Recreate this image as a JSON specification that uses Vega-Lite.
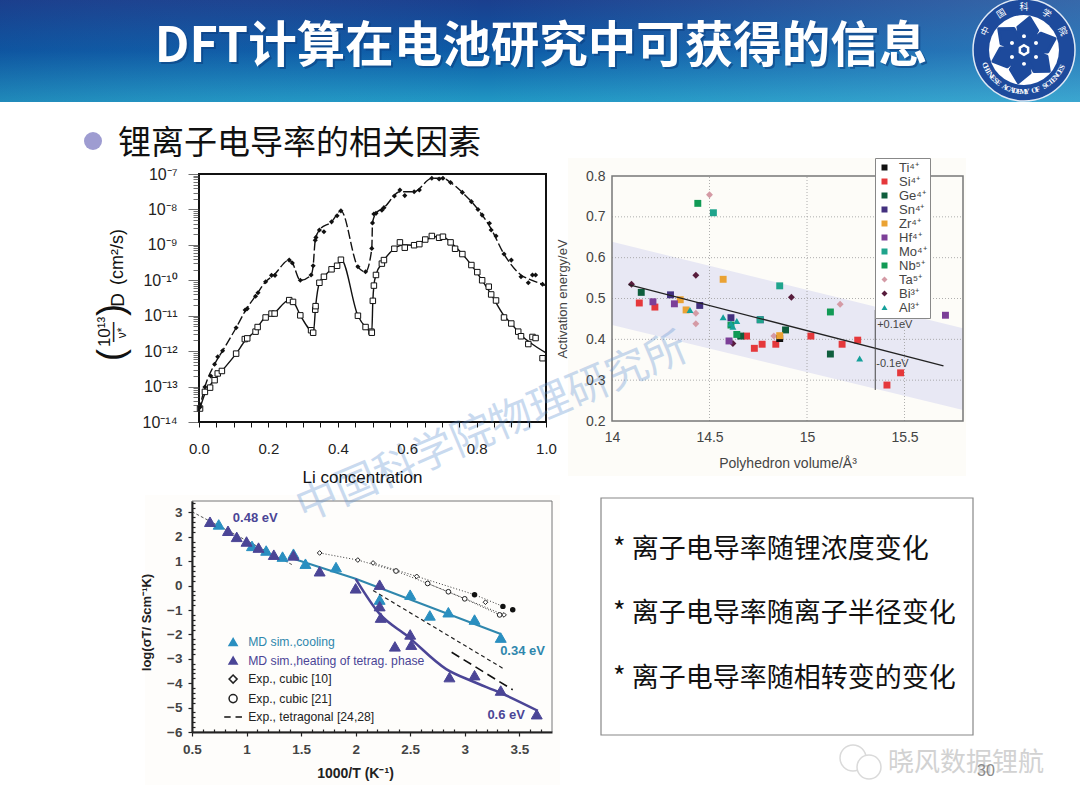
{
  "$schema": "https://vega.github.io/schema/vega-lite/v6.json",
  "width": 1080,
  "height": 810,
  "padding": 0,
  "autosize": "none",
  "background": "white",
  "config": {"view": {"stroke": null}, "font": "Liberation Sans"},
  "data": {"values": [{"k": 1}]},
  "datasets": {
    "li_open": [
      {"li": 0.003, "log_d": -13.62}, {"li": 0.017, "log_d": -13.15}, {"li": 0.032, "log_d": -13.03}, {"li": 0.045, "log_d": -12.82},
      {"li": 0.054, "log_d": -12.63}, {"li": 0.066, "log_d": -12.56}, {"li": 0.107, "log_d": -12.07}, {"li": 0.132, "log_d": -11.66},
      {"li": 0.139, "log_d": -11.64}, {"li": 0.163, "log_d": -11.45}, {"li": 0.169, "log_d": -11.32}, {"li": 0.192, "log_d": -11.05},
      {"li": 0.209, "log_d": -10.94}, {"li": 0.218, "log_d": -10.94}, {"li": 0.26, "log_d": -10.56}, {"li": 0.271, "log_d": -10.61},
      {"li": 0.292, "log_d": -10.99}, {"li": 0.323, "log_d": -11.41}, {"li": 0.329, "log_d": -11.48}, {"li": 0.335, "log_d": -10.83},
      {"li": 0.336, "log_d": -10.73}, {"li": 0.347, "log_d": -10.07}, {"li": 0.36, "log_d": -9.9}, {"li": 0.382, "log_d": -9.69},
      {"li": 0.398, "log_d": -9.59}, {"li": 0.409, "log_d": -9.42}, {"li": 0.458, "log_d": -11.0}, {"li": 0.48, "log_d": -11.32},
      {"li": 0.497, "log_d": -11.45}, {"li": 0.498, "log_d": -11.48}, {"li": 0.501, "log_d": -10.58}, {"li": 0.504, "log_d": -10.15},
      {"li": 0.51, "log_d": -9.85}, {"li": 0.527, "log_d": -9.53}, {"li": 0.533, "log_d": -9.43}, {"li": 0.563, "log_d": -9.11},
      {"li": 0.579, "log_d": -8.93}, {"li": 0.593, "log_d": -9.08}, {"li": 0.62, "log_d": -9.01}, {"li": 0.635, "log_d": -8.98},
      {"li": 0.652, "log_d": -8.85}, {"li": 0.671, "log_d": -8.75}, {"li": 0.692, "log_d": -8.8}, {"li": 0.703, "log_d": -8.77},
      {"li": 0.725, "log_d": -8.93}, {"li": 0.738, "log_d": -9.11}, {"li": 0.759, "log_d": -9.26}, {"li": 0.785, "log_d": -9.57},
      {"li": 0.802, "log_d": -9.77}, {"li": 0.816, "log_d": -10.0}, {"li": 0.835, "log_d": -10.18}, {"li": 0.842, "log_d": -10.4},
      {"li": 0.856, "log_d": -10.57}, {"li": 0.879, "log_d": -11.05}, {"li": 0.9, "log_d": -11.22}, {"li": 0.92, "log_d": -11.45},
      {"li": 0.928, "log_d": -11.58}, {"li": 0.949, "log_d": -11.8}, {"li": 0.961, "log_d": -11.6}, {"li": 0.97, "log_d": -11.63},
      {"li": 0.99, "log_d": -12.2}
    ],
    "li_open_line": [
      {"li": 0, "log_d": -13.7}, {"li": 0.017, "log_d": -13.2}, {"li": 0.05, "log_d": -12.75}, {"li": 0.066, "log_d": -12.56},
      {"li": 0.107, "log_d": -12.07}, {"li": 0.135, "log_d": -11.68}, {"li": 0.16, "log_d": -11.45}, {"li": 0.19, "log_d": -11.05},
      {"li": 0.215, "log_d": -10.94}, {"li": 0.26, "log_d": -10.56}, {"li": 0.272, "log_d": -10.61}, {"li": 0.292, "log_d": -10.99},
      {"li": 0.33, "log_d": -11.45}, {"li": 0.336, "log_d": -10.75}, {"li": 0.347, "log_d": -10.07}, {"li": 0.36, "log_d": -9.9},
      {"li": 0.382, "log_d": -9.69}, {"li": 0.398, "log_d": -9.59}, {"li": 0.41, "log_d": -9.42}, {"li": 0.458, "log_d": -11.0},
      {"li": 0.48, "log_d": -11.32}, {"li": 0.498, "log_d": -11.45}, {"li": 0.501, "log_d": -10.58}, {"li": 0.504, "log_d": -10.15},
      {"li": 0.51, "log_d": -9.85}, {"li": 0.53, "log_d": -9.48}, {"li": 0.563, "log_d": -9.11}, {"li": 0.59, "log_d": -9.0},
      {"li": 0.62, "log_d": -9.01}, {"li": 0.652, "log_d": -8.87}, {"li": 0.68, "log_d": -8.77}, {"li": 0.703, "log_d": -8.77},
      {"li": 0.725, "log_d": -8.93}, {"li": 0.759, "log_d": -9.26}, {"li": 0.785, "log_d": -9.57}, {"li": 0.816, "log_d": -10.0},
      {"li": 0.842, "log_d": -10.4}, {"li": 0.879, "log_d": -11.0}, {"li": 0.9, "log_d": -11.22}, {"li": 0.928, "log_d": -11.55},
      {"li": 0.96, "log_d": -11.8}, {"li": 1, "log_d": -12.05}
    ],
    "li_solid": [
      {"li": 0.003, "log_d": -13.58}, {"li": 0.017, "log_d": -13.01}, {"li": 0.034, "log_d": -12.7}, {"li": 0.045, "log_d": -12.37},
      {"li": 0.054, "log_d": -12.16}, {"li": 0.068, "log_d": -11.99}, {"li": 0.107, "log_d": -11.34}, {"li": 0.133, "log_d": -10.84},
      {"li": 0.139, "log_d": -10.8}, {"li": 0.163, "log_d": -10.45}, {"li": 0.17, "log_d": -10.35}, {"li": 0.192, "log_d": -10.04},
      {"li": 0.209, "log_d": -9.86}, {"li": 0.219, "log_d": -9.86}, {"li": 0.26, "log_d": -9.43}, {"li": 0.269, "log_d": -9.51},
      {"li": 0.292, "log_d": -10.0}, {"li": 0.323, "log_d": -9.85}, {"li": 0.329, "log_d": -9.59}, {"li": 0.335, "log_d": -8.87},
      {"li": 0.337, "log_d": -8.79}, {"li": 0.347, "log_d": -8.58}, {"li": 0.36, "log_d": -8.63}, {"li": 0.382, "log_d": -8.35},
      {"li": 0.398, "log_d": -8.18}, {"li": 0.409, "log_d": -8.04}, {"li": 0.458, "log_d": -9.62}, {"li": 0.48, "log_d": -9.76},
      {"li": 0.498, "log_d": -9.1}, {"li": 0.5, "log_d": -8.38}, {"li": 0.504, "log_d": -8.13}, {"li": 0.51, "log_d": -8.11},
      {"li": 0.527, "log_d": -8.02}, {"li": 0.533, "log_d": -7.95}, {"li": 0.563, "log_d": -7.62}, {"li": 0.579, "log_d": -7.45},
      {"li": 0.593, "log_d": -7.61}, {"li": 0.62, "log_d": -7.5}, {"li": 0.635, "log_d": -7.45}, {"li": 0.671, "log_d": -7.12},
      {"li": 0.692, "log_d": -7.14}, {"li": 0.703, "log_d": -7.12}, {"li": 0.725, "log_d": -7.24}, {"li": 0.759, "log_d": -7.52},
      {"li": 0.785, "log_d": -7.78}, {"li": 0.804, "log_d": -8.0}, {"li": 0.816, "log_d": -8.16}, {"li": 0.837, "log_d": -8.39},
      {"li": 0.842, "log_d": -8.58}, {"li": 0.856, "log_d": -8.75}, {"li": 0.879, "log_d": -9.26}, {"li": 0.9, "log_d": -9.43},
      {"li": 0.928, "log_d": -9.9}, {"li": 0.949, "log_d": -10.07}, {"li": 0.961, "log_d": -9.85}, {"li": 0.97, "log_d": -9.85},
      {"li": 0.99, "log_d": -10.11}
    ],
    "li_solid_line": [
      {"li": 0, "log_d": -13.7}, {"li": 0.017, "log_d": -13.01}, {"li": 0.045, "log_d": -12.37}, {"li": 0.068, "log_d": -11.99},
      {"li": 0.107, "log_d": -11.34}, {"li": 0.136, "log_d": -10.82}, {"li": 0.166, "log_d": -10.4}, {"li": 0.192, "log_d": -10.04},
      {"li": 0.215, "log_d": -9.86}, {"li": 0.26, "log_d": -9.43}, {"li": 0.269, "log_d": -9.51}, {"li": 0.292, "log_d": -10.0},
      {"li": 0.323, "log_d": -9.85}, {"li": 0.329, "log_d": -9.59}, {"li": 0.335, "log_d": -8.87}, {"li": 0.347, "log_d": -8.58},
      {"li": 0.382, "log_d": -8.35}, {"li": 0.409, "log_d": -8.04}, {"li": 0.458, "log_d": -9.62}, {"li": 0.48, "log_d": -9.76},
      {"li": 0.498, "log_d": -9.1}, {"li": 0.5, "log_d": -8.38}, {"li": 0.51, "log_d": -8.11}, {"li": 0.533, "log_d": -7.95},
      {"li": 0.579, "log_d": -7.5}, {"li": 0.62, "log_d": -7.5}, {"li": 0.671, "log_d": -7.12}, {"li": 0.703, "log_d": -7.12},
      {"li": 0.725, "log_d": -7.24}, {"li": 0.759, "log_d": -7.52}, {"li": 0.804, "log_d": -8.0}, {"li": 0.842, "log_d": -8.55},
      {"li": 0.879, "log_d": -9.26}, {"li": 0.928, "log_d": -9.85}, {"li": 0.96, "log_d": -10.0}, {"li": 1, "log_d": -10.15}
    ],
    "ions": [
      {"ion": "Bi³⁺", "vol": 14.1, "ea": 0.535}, {"ion": "Bi³⁺", "vol": 14.43, "ea": 0.557}, {"ion": "Bi³⁺", "vol": 14.92, "ea": 0.503}, {"ion": "Bi³⁺", "vol": 14.62, "ea": 0.39},
      {"ion": "Ta⁵⁺", "vol": 14.5, "ea": 0.754}, {"ion": "Ta⁵⁺", "vol": 15.17, "ea": 0.486}, {"ion": "Ta⁵⁺", "vol": 14.43, "ea": 0.464}, {"ion": "Ta⁵⁺", "vol": 14.43, "ea": 0.438}, {"ion": "Ta⁵⁺", "vol": 14.83, "ea": 0.408},
      {"ion": "Si⁴⁺", "vol": 14.14, "ea": 0.489}, {"ion": "Si⁴⁺", "vol": 14.22, "ea": 0.479}, {"ion": "Si⁴⁺", "vol": 14.69, "ea": 0.408}, {"ion": "Si⁴⁺", "vol": 14.73, "ea": 0.378}, {"ion": "Si⁴⁺", "vol": 14.77, "ea": 0.388}, {"ion": "Si⁴⁺", "vol": 14.84, "ea": 0.388}, {"ion": "Si⁴⁺", "vol": 15.02, "ea": 0.408}, {"ion": "Si⁴⁺", "vol": 15.18, "ea": 0.388}, {"ion": "Si⁴⁺", "vol": 15.26, "ea": 0.398}, {"ion": "Si⁴⁺", "vol": 15.41, "ea": 0.288}, {"ion": "Si⁴⁺", "vol": 15.48, "ea": 0.318},
      {"ion": "Ti⁴⁺", "vol": 14.86, "ea": 0.402},
      {"ion": "Ge⁴⁺", "vol": 14.15, "ea": 0.515}, {"ion": "Ge⁴⁺", "vol": 15.12, "ea": 0.364}, {"ion": "Ge⁴⁺", "vol": 14.89, "ea": 0.423}, {"ion": "Ge⁴⁺", "vol": 14.66, "ea": 0.408},
      {"ion": "Nb⁵⁺", "vol": 14.44, "ea": 0.733}, {"ion": "Nb⁵⁺", "vol": 15.12, "ea": 0.467}, {"ion": "Nb⁵⁺", "vol": 14.61, "ea": 0.435}, {"ion": "Nb⁵⁺", "vol": 14.64, "ea": 0.412},
      {"ion": "Zr⁴⁺", "vol": 14.57, "ea": 0.547}, {"ion": "Zr⁴⁺", "vol": 14.35, "ea": 0.497}, {"ion": "Zr⁴⁺", "vol": 14.38, "ea": 0.472}, {"ion": "Zr⁴⁺", "vol": 14.86, "ea": 0.409},
      {"ion": "Hf⁴⁺", "vol": 14.21, "ea": 0.492}, {"ion": "Hf⁴⁺", "vol": 14.32, "ea": 0.487}, {"ion": "Hf⁴⁺", "vol": 15.71, "ea": 0.459}, {"ion": "Hf⁴⁺", "vol": 14.6, "ea": 0.396},
      {"ion": "Sn⁴⁺", "vol": 14.3, "ea": 0.509}, {"ion": "Sn⁴⁺", "vol": 14.45, "ea": 0.483}, {"ion": "Sn⁴⁺", "vol": 14.61, "ea": 0.453}, {"ion": "Sn⁴⁺", "vol": 14.76, "ea": 0.448},
      {"ion": "Mo⁴⁺", "vol": 14.52, "ea": 0.71}, {"ion": "Mo⁴⁺", "vol": 14.86, "ea": 0.531}, {"ion": "Mo⁴⁺", "vol": 14.76, "ea": 0.448},
      {"ion": "Al³⁺", "vol": 14.4, "ea": 0.472}, {"ion": "Al³⁺", "vol": 14.57, "ea": 0.454}, {"ion": "Al³⁺", "vol": 14.61, "ea": 0.439}, {"ion": "Al³⁺", "vol": 14.62, "ea": 0.431}, {"ion": "Al³⁺", "vol": 14.64, "ea": 0.445}, {"ion": "Al³⁺", "vol": 15.27, "ea": 0.353}
    ],
    "md_points": [
      {"series": "MD sim.,cooling", "t": 0.745, "s": 2.51}, {"series": "MD sim.,cooling", "t": 1.05, "s": 1.63}, {"series": "MD sim.,cooling", "t": 1.18, "s": 1.44}, {"series": "MD sim.,cooling", "t": 1.33, "s": 1.19}, {"series": "MD sim.,cooling", "t": 1.43, "s": 1.31}, {"series": "MD sim.,cooling", "t": 1.54, "s": 0.9}, {"series": "MD sim.,cooling", "t": 1.82, "s": 0.76}, {"series": "MD sim.,cooling", "t": 2.22, "s": -0.57}, {"series": "MD sim.,cooling", "t": 2.5, "s": -0.37}, {"series": "MD sim.,cooling", "t": 2.68, "s": -1.22}, {"series": "MD sim.,cooling", "t": 2.85, "s": -1.09}, {"series": "MD sim.,cooling", "t": 3.09, "s": -1.39}, {"series": "MD sim.,cooling", "t": 3.33, "s": -2.13},
      {"series": "MD sim.,heating of tetrag. phase", "t": 0.665, "s": 2.62}, {"series": "MD sim.,heating of tetrag. phase", "t": 0.83, "s": 2.25}, {"series": "MD sim.,heating of tetrag. phase", "t": 0.91, "s": 2.0}, {"series": "MD sim.,heating of tetrag. phase", "t": 1.0, "s": 1.81}, {"series": "MD sim.,heating of tetrag. phase", "t": 1.11, "s": 1.56}, {"series": "MD sim.,heating of tetrag. phase", "t": 1.25, "s": 1.27}, {"series": "MD sim.,heating of tetrag. phase", "t": 1.43, "s": 1.24}, {"series": "MD sim.,heating of tetrag. phase", "t": 1.67, "s": 0.59}, {"series": "MD sim.,heating of tetrag. phase", "t": 2.0, "s": -0.11}, {"series": "MD sim.,heating of tetrag. phase", "t": 2.22, "s": 0.04}, {"series": "MD sim.,heating of tetrag. phase", "t": 2.22, "s": -0.84}, {"series": "MD sim.,heating of tetrag. phase", "t": 2.23, "s": -1.31}, {"series": "MD sim.,heating of tetrag. phase", "t": 2.36, "s": -2.49}, {"series": "MD sim.,heating of tetrag. phase", "t": 2.5, "s": -2.0}, {"series": "MD sim.,heating of tetrag. phase", "t": 2.51, "s": -2.42}, {"series": "MD sim.,heating of tetrag. phase", "t": 2.86, "s": -3.75}, {"series": "MD sim.,heating of tetrag. phase", "t": 3.09, "s": -3.67}, {"series": "MD sim.,heating of tetrag. phase", "t": 3.33, "s": -4.3}, {"series": "MD sim.,heating of tetrag. phase", "t": 3.66, "s": -5.27}
    ],
    "exp_points": [
      {"series": "Exp., cubic [10]", "t": 1.67, "s": 1.34}, {"series": "Exp., cubic [10]", "t": 2.02, "s": 1.05}, {"series": "Exp., cubic [10]", "t": 2.16, "s": 0.93}, {"series": "Exp., cubic [10]", "t": 2.56, "s": 0.38}, {"series": "Exp., cubic [10]", "t": 3.19, "s": -0.68}, {"series": "Exp., cubic [10]", "t": 3.36, "s": -1.2},
      {"series": "Exp., cubic [21]", "t": 2.37, "s": 0.6}, {"series": "Exp., cubic [21]", "t": 2.66, "s": 0.09}, {"series": "Exp., cubic [21]", "t": 2.85, "s": -0.25}, {"series": "Exp., cubic [21]", "t": 3.0, "s": -0.54}, {"series": "Exp., cubic [21]", "t": 3.32, "s": -1.2}
    ],
    "exp_solid": [
      {"t": 3.09, "s": -0.37}, {"t": 3.35, "s": -0.85}, {"t": 3.44, "s": -0.99}
    ],
    "exp_dotted": [
      {"run": "a", "t": 1.67, "s": 1.34}, {"run": "a", "t": 2.02, "s": 1.05}, {"run": "a", "t": 2.37, "s": 0.6}, {"run": "a", "t": 2.85, "s": -0.25}, {"run": "a", "t": 3.36, "s": -1.2},
      {"run": "b", "t": 2.16, "s": 0.93}, {"run": "b", "t": 2.56, "s": 0.38}, {"run": "b", "t": 3.09, "s": -0.37}, {"run": "b", "t": 3.35, "s": -0.85},
      {"run": "c", "t": 2.66, "s": 0.09}, {"run": "c", "t": 3.0, "s": -0.54}, {"run": "c", "t": 3.32, "s": -1.2}
    ],
    "purple_curve": [
      {"t": 2.0, "s": 0.28}, {"t": 2.22, "s": -1.16}, {"t": 2.47, "s": -2.05}, {"t": 2.83, "s": -3.42}, {"t": 3.08, "s": -3.94}, {"t": 3.32, "s": -4.38}, {"t": 3.67, "s": -5.13}
    ],
    "blue_line": [
      {"t": 1.43, "s": 1.1}, {"t": 2.0, "s": 0.28}, {"t": 3.33, "s": -1.98}
    ],
    "band": [
      {"vol": 14, "ea": 0.639, "bottom": 0.435}, {"vol": 15.8, "ea": 0.427, "bottom": 0.227}
    ],
    "fit": [
      {"vol": 14.085, "ea": 0.534}, {"vol": 15.7, "ea": 0.335}
    ],
    "grid_v": [{"vol": 14.5, "ea": 0.2, "ea2": 0.8}, {"vol": 15, "ea": 0.2, "ea2": 0.8}, {"vol": 15.5, "ea": 0.2, "ea2": 0.8}],
    "grid_h": [{"ea": 0.3, "vol": 14, "vol2": 15.8}, {"ea": 0.4, "vol": 14, "vol2": 15.8}, {"ea": 0.5, "vol": 14, "vol2": 15.8}, {"ea": 0.6, "vol": 14, "vol2": 15.8}, {"ea": 0.7, "vol": 14, "vol2": 15.8}],
    "logo_en": [
      {"i": 0, "ch": "C"}, {"i": 1, "ch": "H"}, {"i": 2, "ch": "I"}, {"i": 3, "ch": "N"}, {"i": 4, "ch": "E"}, {"i": 5, "ch": "S"}, {"i": 6, "ch": "E"},
      {"i": 8, "ch": "A"}, {"i": 9, "ch": "C"}, {"i": 10, "ch": "A"}, {"i": 11, "ch": "D"}, {"i": 12, "ch": "E"}, {"i": 13, "ch": "M"}, {"i": 14, "ch": "Y"},
      {"i": 16, "ch": "O"}, {"i": 17, "ch": "F"},
      {"i": 19, "ch": "S"}, {"i": 20, "ch": "C"}, {"i": 21, "ch": "I"}, {"i": 22, "ch": "E"}, {"i": 23, "ch": "N"}, {"i": 24, "ch": "C"}, {"i": 25, "ch": "E"}, {"i": 26, "ch": "S"}
    ],
    "logo_cn": [
      {"i": 0, "ch": "中"}, {"i": 1, "ch": "国"}, {"i": 2, "ch": "科"}, {"i": 3, "ch": "学"}, {"i": 4, "ch": "院"}
    ]
  },
  "layer": [
    {
      "layer": [
        {
          "mark": {"type": "rect", "fill": {"gradient": "linear", "x1": 0, "y1": 0, "x2": 0, "y2": 1, "stops": [{"offset": 0, "color": "#1b3f8e"}, {"offset": 0.5, "color": "#0c5aa6"}, {"offset": 1, "color": "#2198c4"}]}},
          "encoding": {
            "x": {"datum": 0, "type": "quantitative", "axis": null, "scale": {"domain": [0, 1080], "range": [0, 1080], "nice": false, "zero": false}},
            "x2": {"datum": 1080},
            "y": {"datum": 0, "type": "quantitative", "axis": null, "scale": {"domain": [0, 810], "range": [0, 810], "nice": false, "zero": false}},
            "y2": {"datum": 102}
          }
        },
        {
          "mark": {"type": "rect", "fill": {"gradient": "linear", "x1": 0, "y1": 0, "x2": 1, "y2": 0, "stops": [{"offset": 0, "color": "rgba(30,60,130,0.15)"}, {"offset": 0.45, "color": "rgba(120,200,235,0)"}, {"offset": 1, "color": "rgba(120,200,235,0.3)"}]}},
          "encoding": {
            "x": {"datum": 0, "type": "quantitative", "axis": null},
            "x2": {"datum": 1080},
            "y": {"datum": 0, "type": "quantitative", "axis": null},
            "y2": {"datum": 102}
          }
        },
        {
          "mark": {"type": "rect", "fill": "#fdfcf8"},
          "encoding": {
            "x": {"datum": 568, "type": "quantitative", "axis": null},
            "x2": {"datum": 966},
            "y": {"datum": 158, "type": "quantitative", "axis": null},
            "y2": {"datum": 476}
          }
        },
        {
          "mark": {"type": "rect", "fill": "#fefdfb"},
          "encoding": {
            "x": {"datum": 145, "type": "quantitative", "axis": null},
            "x2": {"datum": 560},
            "y": {"datum": 495, "type": "quantitative", "axis": null},
            "y2": {"datum": 785}
          }
        },
        {
          "mark": {"type": "rect", "fill": "white", "stroke": "#888888", "strokeWidth": 1.2},
          "encoding": {
            "x": {"datum": 601, "type": "quantitative", "axis": null},
            "x2": {"datum": 973},
            "y": {"datum": 498, "type": "quantitative", "axis": null},
            "y2": {"datum": 735}
          }
        },
        {
          "mark": {"type": "text", "font": "Noto Sans CJK SC", "fontWeight": "bold", "fontSize": 48.5, "color": "#0b3f80", "opacity": 0.6, "align": "center", "baseline": "middle"},
          "encoding": {
            "text": {"datum": "DFT计算在电池研究中可获得的信息"},
            "x": {"datum": 543, "type": "quantitative", "axis": null},
            "y": {"datum": 49, "type": "quantitative", "axis": null}
          }
        },
        {
          "mark": {"type": "text", "font": "Noto Sans CJK SC", "fontWeight": "bold", "fontSize": 48.5, "color": "white", "align": "center", "baseline": "middle"},
          "encoding": {
            "text": {"datum": "DFT计算在电池研究中可获得的信息"},
            "x": {"datum": 541, "type": "quantitative", "axis": null},
            "y": {"datum": 47, "type": "quantitative", "axis": null}
          }
        },
        {
          "mark": {"type": "point", "shape": "circle", "filled": true, "size": 324, "color": "#9e9cd1", "opacity": 1},
          "encoding": {
            "x": {"datum": 93, "type": "quantitative", "axis": null},
            "y": {"datum": 141, "type": "quantitative", "axis": null}
          }
        },
        {
          "mark": {"type": "text", "font": "Noto Sans CJK SC", "fontSize": 33, "color": "#111111", "align": "left", "baseline": "middle"},
          "encoding": {
            "text": {"datum": "锂离子电导率的相关因素"},
            "x": {"datum": 118, "type": "quantitative", "axis": null},
            "y": {"datum": 144, "type": "quantitative", "axis": null}
          }
        },
        {
          "mark": {"type": "text", "font": "Noto Sans CJK SC", "fontSize": 27, "color": "#111111", "align": "left", "baseline": "middle"},
          "encoding": {
            "text": {"datum": "* 离子电导率随锂浓度变化"},
            "x": {"datum": 613, "type": "quantitative", "axis": null},
            "y": {"datum": 550, "type": "quantitative", "axis": null}
          }
        },
        {
          "mark": {"type": "text", "font": "Noto Sans CJK SC", "fontSize": 27, "color": "#111111", "align": "left", "baseline": "middle"},
          "encoding": {
            "text": {"datum": "* 离子电导率随离子半径变化"},
            "x": {"datum": 613, "type": "quantitative", "axis": null},
            "y": {"datum": 614, "type": "quantitative", "axis": null}
          }
        },
        {
          "mark": {"type": "text", "font": "Noto Sans CJK SC", "fontSize": 27, "color": "#111111", "align": "left", "baseline": "middle"},
          "encoding": {
            "text": {"datum": "* 离子电导率随相转变的变化"},
            "x": {"datum": 613, "type": "quantitative", "axis": null},
            "y": {"datum": 679, "type": "quantitative", "axis": null}
          }
        },
        {
          "mark": {"type": "point", "shape": "circle", "filled": true, "size": 10404, "color": "#1d4a9c", "stroke": "#dfe9f5", "strokeWidth": 1.5, "opacity": 1},
          "encoding": {
            "x": {"datum": 1024, "type": "quantitative", "axis": null},
            "y": {"datum": 50, "type": "quantitative", "axis": null}
          }
        },
        {
          "mark": {"type": "point", "shape": "circle", "filled": true, "size": 4900, "color": "white", "opacity": 1},
          "encoding": {
            "x": {"datum": 1024, "type": "quantitative", "axis": null},
            "y": {"datum": 50, "type": "quantitative", "axis": null}
          }
        },
        {
          "mark": {"type": "point", "filled": true, "size": 4356, "color": "#1d4a9c", "stroke": "#1d4a9c", "strokeWidth": 3, "strokeJoin": "round", "opacity": 1, "shape": "M-.186,-.695L.174,-.985L.413,-.59L.193,-.23L.509,-.509L.94,-.342L.717,.063L.295,.052L.695,.186L.766,.643L.304,.653L.103,.282L.186,.695L-.174,.985L-.413,.59L-.193,.23L-.509,.509L-.94,.342L-.717,-.063L-.295,-.052L-.695,-.186L-.766,-.643L-.304,-.653L-.103,-.282Z"},
          "encoding": {
            "x": {"datum": 1024, "type": "quantitative", "axis": null},
            "y": {"datum": 50, "type": "quantitative", "axis": null}
          }
        },
        {
          "mark": {"type": "point", "filled": true, "size": 4356, "color": "white", "opacity": 1, "shape": "M0,-.42m-.06,0a.06,.06 0 1,0 .12,0a.06,.06 0 1,0 -.12,0M.364,-.21m-.06,0a.06,.06 0 1,0 .12,0a.06,.06 0 1,0 -.12,0M.364,.21m-.06,0a.06,.06 0 1,0 .12,0a.06,.06 0 1,0 -.12,0M0,.42m-.06,0a.06,.06 0 1,0 .12,0a.06,.06 0 1,0 -.12,0M-.364,.21m-.06,0a.06,.06 0 1,0 .12,0a.06,.06 0 1,0 -.12,0M-.364,-.21m-.06,0a.06,.06 0 1,0 .12,0a.06,.06 0 1,0 -.12,0Z"},
          "encoding": {
            "x": {"datum": 1024, "type": "quantitative", "axis": null},
            "y": {"datum": 50, "type": "quantitative", "axis": null}
          }
        },
        {
          "mark": {"type": "point", "filled": false, "size": 90, "stroke": "white", "strokeWidth": 2.5, "opacity": 1, "shape": "M0,-1L.87,-.5L.87,.5L0,1L-.87,.5L-.87,-.5Z"},
          "encoding": {
            "x": {"datum": 1024, "type": "quantitative", "axis": null},
            "y": {"datum": 50, "type": "quantitative", "axis": null}
          }
        },
        {
          "mark": {"type": "text", "font": "Noto Sans CJK SC", "fontSize": 26, "color": "#d2d2d2", "align": "left", "baseline": "middle"},
          "encoding": {
            "text": {"datum": "晓风数据锂航"},
            "x": {"datum": 888, "type": "quantitative", "axis": null},
            "y": {"datum": 763, "type": "quantitative", "axis": null}
          }
        },
        {
          "mark": {"type": "text", "fontSize": 16, "color": "#8a8a8a", "align": "center", "baseline": "middle"},
          "encoding": {
            "text": {"datum": "30"},
            "x": {"datum": 986, "type": "quantitative", "axis": null},
            "y": {"datum": 771, "type": "quantitative", "axis": null}
          }
        },
        {
          "mark": {"type": "point", "shape": "circle", "filled": true, "size": 676, "color": "white", "stroke": "#dadada", "strokeWidth": 1.5, "opacity": 1},
          "encoding": {
            "x": {"datum": 853, "type": "quantitative", "axis": null},
            "y": {"datum": 758, "type": "quantitative", "axis": null}
          }
        },
        {
          "mark": {"type": "point", "shape": "circle", "filled": true, "size": 576, "color": "white", "stroke": "#dadada", "strokeWidth": 1.5, "opacity": 1},
          "encoding": {
            "x": {"datum": 869, "type": "quantitative", "axis": null},
            "y": {"datum": 767, "type": "quantitative", "axis": null}
          }
        }
      ]
    },
    {
      "data": {"name": "logo_en"},
      "mark": {"type": "text", "font": "Liberation Serif", "fontWeight": "bold", "fontSize": 7.5, "color": "white", "radius": 42, "align": "center", "baseline": "middle"},
      "encoding": {
        "x": {"datum": 1024, "type": "quantitative", "axis": null, "scale": {"domain": [0, 1080], "range": [0, 1080], "nice": false, "zero": false}},
        "y": {"datum": 50, "type": "quantitative", "axis": null, "scale": {"domain": [0, 810], "range": [0, 810], "nice": false, "zero": false}},
        "theta": {"field": "i", "type": "quantitative", "scale": {"domain": [0, 26], "range": [4.346, 1.986]}},
        "angle": {"field": "i", "type": "quantitative", "scale": {"domain": [0, 26], "range": [69, -66]}},
        "text": {"field": "ch"}
      }
    },
    {
      "data": {"name": "logo_cn"},
      "mark": {"type": "text", "font": "Noto Sans CJK SC", "fontSize": 9, "color": "white", "radius": 43, "align": "center", "baseline": "middle"},
      "encoding": {
        "x": {"datum": 1024, "type": "quantitative", "axis": null, "scale": {"domain": [0, 1080], "range": [0, 1080], "nice": false, "zero": false}},
        "y": {"datum": 50, "type": "quantitative", "axis": null, "scale": {"domain": [0, 810], "range": [0, 810], "nice": false, "zero": false}},
        "theta": {"field": "i", "type": "quantitative", "scale": {"domain": [0, 4], "range": [5.166, 7.4]}},
        "angle": {"field": "i", "type": "quantitative", "scale": {"domain": [0, 4], "range": [-64, 64]}},
        "text": {"field": "ch"}
      }
    },
    {
      "encoding": {
        "x": {
          "field": "li", "type": "quantitative", "title": "Li  concentration",
          "scale": {"domain": [0, 1], "range": [199, 546], "nice": false, "zero": false},
          "axis": {
            "orient": "bottom", "offset": -388, "zindex": 1, "values": [0, 0.05, 0.1, 0.15, 0.2, 0.25, 0.3, 0.35, 0.4, 0.45, 0.5, 0.55, 0.6, 0.65, 0.7, 0.75, 0.8, 0.85, 0.9, 0.95, 1],
            "labelExpr": "round(datum.value * 100) % 20 == 0 ? format(datum.value, '.1f') : ''",
            "labelFontSize": 15, "labelColor": "#222222", "labelPadding": 14, "labelOverlap": false, "labelFlush": false,
            "tickColor": "#111111", "tickWidth": 1, "tickSize": 5, "grid": false, "domain": false,
            "titleFontSize": 17, "titleFontWeight": "normal", "titleColor": "#111111", "titleX": 362, "titleY": 47
          }
        },
        "y": {
          "field": "log_d", "type": "quantitative", "title": null,
          "scale": {"domain": [-14, -7], "range": [422, 174], "nice": false, "zero": false},
          "axis": {
            "orient": "left", "offset": -199, "zindex": 1,
            "values": [-14, -13.699, -13.523, -13.398, -13.301, -13.222, -13.155, -13.097, -13.046, -13, -12.699, -12.523, -12.398, -12.301, -12.222, -12.155, -12.097, -12.046, -12, -11.699, -11.523, -11.398, -11.301, -11.222, -11.155, -11.097, -11.046, -11, -10.699, -10.523, -10.398, -10.301, -10.222, -10.155, -10.097, -10.046, -10, -9.699, -9.523, -9.398, -9.301, -9.222, -9.155, -9.097, -9.046, -9, -8.699, -8.523, -8.398, -8.301, -8.222, -8.155, -8.097, -8.046, -8, -7.699, -7.523, -7.398, -7.301, -7.222, -7.155, -7.097, -7.046, -7],
            "labelExpr": "datum.value == round(datum.value) ? '10' + ({'-14':'⁻¹⁴','-13':'⁻¹³','-12':'⁻¹²','-11':'⁻¹¹','-10':'⁻¹⁰','-9':'⁻⁹','-8':'⁻⁸','-7':'⁻⁷'})[datum.value] : ''",
            "labelFontSize": 16, "labelColor": "#222222", "labelPadding": 11, "labelOverlap": false, "labelFlush": false,
            "tickColor": "#333333", "tickWidth": 0.7, "tickSize": {"condition": {"test": "datum.value == round(datum.value)", "value": 11}, "value": 6},
            "grid": false, "domain": false
          }
        }
      },
      "layer": [
        {
          "data": {"name": "li_open_line"},
          "mark": {"type": "line", "color": "#111111", "strokeWidth": 1.4, "interpolate": "monotone"}
        },
        {
          "data": {"name": "li_solid_line"},
          "mark": {"type": "line", "color": "#111111", "strokeWidth": 1.4, "strokeDash": [9, 3], "interpolate": "monotone"}
        },
        {
          "data": {"name": "li_open"},
          "mark": {"type": "point", "shape": "square", "size": 30, "filled": true, "fill": "white", "stroke": "#111111", "strokeWidth": 1, "opacity": 1}
        },
        {
          "data": {"name": "li_solid"},
          "mark": {"type": "point", "shape": "diamond", "size": 26, "filled": true, "color": "#111111", "opacity": 1}
        },
        {
          "data": {"values": [{"li": 0, "li2": 1, "log_d": -14, "log_d2": -7}]},
          "mark": {"type": "rect", "fill": null, "stroke": "#111111", "strokeWidth": 2},
          "encoding": {"x2": {"field": "li2"}, "y2": {"field": "log_d2"}}
        }
      ]
    },
    {
      "encoding": {
        "x": {
          "field": "vol", "type": "quantitative", "title": "Polyhedron volume/Å³",
          "scale": {"domain": [14, 15.8], "range": [612, 963], "nice": false, "zero": false},
          "axis": {
            "orient": "bottom", "offset": -389, "zindex": 1, "values": [14, 14.5, 15, 15.5],
            "labelExpr": "datum.value == 14.5 || datum.value == 15.5 ? format(datum.value, '.1f') : format(datum.value, 'd')",
            "labelFontSize": 14, "labelColor": "#444444", "labelPadding": 9, "labelFlush": false, "labelOverlap": false,
            "tickSize": 0, "grid": false, "domain": false,
            "titleFontSize": 14, "titleFontWeight": "normal", "titleColor": "#444444", "titlePadding": 12
          }
        },
        "y": {
          "field": "ea", "type": "quantitative", "title": "Activation energy/eV",
          "scale": {"domain": [0.2, 0.8], "range": [421, 176], "nice": false, "zero": false},
          "axis": {
            "orient": "left", "offset": -612, "zindex": 1, "values": [0.2, 0.3, 0.4, 0.5, 0.6, 0.7, 0.8], "format": ".1f",
            "labelFontSize": 14, "labelColor": "#444444", "labelPadding": 7, "labelFlush": false, "labelOverlap": false,
            "tickSize": 0, "grid": false, "domain": false,
            "titleFontSize": 13, "titleFontWeight": "normal", "titleColor": "#444444", "titlePadding": 16
          }
        }
      },
      "layer": [
        {
          "data": {"name": "band"},
          "mark": {"type": "area", "color": "#e8e8f4", "opacity": 1},
          "encoding": {"y2": {"field": "bottom"}}
        },
        {
          "data": {"name": "grid_v"},
          "mark": {"type": "rule", "color": "#9a9a9a", "strokeWidth": 0.8, "strokeDash": [1, 2]},
          "encoding": {"y2": {"field": "ea2"}}
        },
        {
          "data": {"name": "grid_h"},
          "mark": {"type": "rule", "color": "#9a9a9a", "strokeWidth": 0.8, "strokeDash": [1, 2]},
          "encoding": {"x2": {"field": "vol2"}}
        },
        {
          "data": {"name": "ions"},
          "mark": {"type": "point", "filled": true, "size": 48, "opacity": 1},
          "encoding": {
            "color": {
              "field": "ion", "type": "nominal", "title": null,
              "scale": {
                "domain": ["Ti⁴⁺", "Si⁴⁺", "Ge⁴⁺", "Sn⁴⁺", "Zr⁴⁺", "Hf⁴⁺", "Mo⁴⁺", "Nb⁵⁺", "Ta⁵⁺", "Bi³⁺", "Al³⁺"],
                "range": ["#111111", "#e5383b", "#0f5e3d", "#43307f", "#eaa233", "#7c3f98", "#1fa48c", "#119a55", "#d49aa5", "#571c3c", "#14a09a"]
              },
              "legend": {
                "orient": "none", "legendX": 875, "legendY": 158, "fillColor": "white", "strokeColor": "#888888", "padding": 3,
                "labelFontSize": 13, "labelColor": "#444444", "symbolSize": 36, "rowPadding": -3, "labelOffset": 8, "symbolOpacity": 1
              }
            },
            "shape": {
              "field": "ion", "type": "nominal",
              "scale": {
                "domain": ["Ti⁴⁺", "Si⁴⁺", "Ge⁴⁺", "Sn⁴⁺", "Zr⁴⁺", "Hf⁴⁺", "Mo⁴⁺", "Nb⁵⁺", "Ta⁵⁺", "Bi³⁺", "Al³⁺"],
                "range": ["square", "square", "square", "square", "square", "square", "square", "square", "diamond", "diamond", "triangle-up"]
              }
            }
          }
        },
        {
          "data": {"name": "fit"},
          "mark": {"type": "line", "color": "#222222", "strokeWidth": 1.3}
        },
        {
          "data": {"values": [{"vol": 15.35, "ea": 0.472, "ea2": 0.276}]},
          "mark": {"type": "rule", "color": "#444444", "strokeWidth": 1},
          "encoding": {"y2": {"field": "ea2"}}
        },
        {
          "data": {"values": [{"vol": 15.36, "ea": 0.436, "note": "+0.1eV"}, {"vol": 15.355, "ea": 0.339, "note": "-0.1eV"}]},
          "mark": {"type": "text", "fontSize": 11, "color": "#444444", "align": "left", "baseline": "middle"},
          "encoding": {"text": {"field": "note"}}
        },
        {
          "data": {"values": [{"vol": 14, "vol2": 15.8, "ea": 0.2, "ea2": 0.8}]},
          "mark": {"type": "rect", "fill": null, "stroke": "#777777", "strokeWidth": 1.5},
          "encoding": {"x2": {"field": "vol2"}, "y2": {"field": "ea2"}}
        }
      ]
    },
    {
      "encoding": {
        "x": {
          "field": "t", "type": "quantitative", "title": "1000/T  (K⁻¹)",
          "scale": {"domain": [0.5, 3.8], "range": [192, 552], "nice": false, "zero": false},
          "axis": {
            "orient": "bottom", "offset": -78, "zindex": 1,
            "values": [0.5, 0.6, 0.7, 0.8, 0.9, 1, 1.1, 1.2, 1.3, 1.4, 1.5, 1.6, 1.7, 1.8, 1.9, 2, 2.1, 2.2, 2.3, 2.4, 2.5, 2.6, 2.7, 2.8, 2.9, 3, 3.1, 3.2, 3.3, 3.4, 3.5, 3.6, 3.7],
            "labelExpr": "round(datum.value * 10) % 5 == 0 ? format(datum.value, '') : ''",
            "labelFontSize": 13.5, "labelFontWeight": "bold", "labelColor": "#444444", "labelPadding": 6, "labelOverlap": false, "labelFlush": false,
            "domainColor": "#222222", "domainWidth": 2, "tickColor": "#222222", "tickWidth": 1.2,
            "tickSize": {"condition": {"test": "round(datum.value * 10) % 5 == 0", "value": 4}, "value": -3},
            "grid": false,
            "titleFontSize": 14, "titleFontWeight": "bold", "titleColor": "#222222", "titleX": 355, "titleY": 34
          }
        },
        "y": {
          "field": "s", "type": "quantitative", "title": "log(σT/ Scm⁻¹K)",
          "scale": {"domain": [-6, 3.47], "range": [732, 501], "nice": false, "zero": false},
          "axis": {
            "orient": "left", "offset": -192, "zindex": 1,
            "values": [-6, -5.8, -5.6, -5.4, -5.2, -5, -4.8, -4.6, -4.4, -4.2, -4, -3.8, -3.6, -3.4, -3.2, -3, -2.8, -2.6, -2.4, -2.2, -2, -1.8, -1.6, -1.4, -1.2, -1, -0.8, -0.6, -0.4, -0.2, 0, 0.2, 0.4, 0.6, 0.8, 1, 1.2, 1.4, 1.6, 1.8, 2, 2.2, 2.4, 2.6, 2.8, 3, 3.2, 3.4],
            "labelExpr": "datum.value == round(datum.value) ? format(datum.value, 'd') : ''",
            "labelFontSize": 13.5, "labelFontWeight": "bold", "labelColor": "#444444", "labelPadding": 6, "labelOverlap": false, "labelFlush": false,
            "domainColor": "#222222", "domainWidth": 2, "tickColor": "#222222", "tickWidth": 1.2,
            "tickSize": {"condition": {"test": "datum.value == round(datum.value)", "value": 4}, "value": -3},
            "grid": false,
            "titleFontSize": 13, "titleFontWeight": "bold", "titleColor": "#222222", "titleX": -39, "titleY": 622
          }
        }
      },
      "layer": [
        {
          "data": {"values": [{"t": 0.5, "s": 3.03}, {"t": 1.43, "s": 0.83}]},
          "mark": {"type": "line", "color": "#555555", "strokeWidth": 1, "strokeDash": [3, 2]}
        },
        {
          "data": {"name": "exp_dotted"},
          "mark": {"type": "line", "color": "#333333", "strokeWidth": 1, "strokeDash": [1, 2]},
          "encoding": {"detail": {"field": "run"}}
        },
        {
          "data": {"values": [{"t": 2.16, "s": -0.2}, {"t": 3.35, "s": -3.39}]},
          "mark": {"type": "line", "color": "#222222", "strokeWidth": 1.2, "strokeDash": [4, 3]}
        },
        {
          "data": {"values": [{"t": 2.88, "s": -2.73}, {"t": 3.44, "s": -4.27}]},
          "mark": {"type": "line", "color": "#111111", "strokeWidth": 1.6, "strokeDash": [9, 5]}
        },
        {
          "data": {"name": "blue_line"},
          "mark": {"type": "line", "color": "#2f87ad", "strokeWidth": 2}
        },
        {
          "data": {"name": "purple_curve"},
          "mark": {"type": "line", "color": "#4b4596", "strokeWidth": 2.5, "interpolate": "monotone"}
        },
        {
          "data": {"name": "exp_solid"},
          "mark": {"type": "point", "shape": "circle", "filled": true, "size": 30, "color": "#111111", "opacity": 1}
        },
        {
          "data": {"name": "md_points"},
          "mark": {"type": "point", "size": 120, "opacity": 1, "strokeWidth": 1},
          "encoding": {
            "shape": {
              "field": "series", "type": "nominal", "title": null,
              "scale": {
                "domain": ["MD sim.,cooling", "MD sim.,heating of tetrag. phase", "Exp., cubic [10]", "Exp., cubic [21]", "Exp., tetragonal [24,28]"],
                "range": ["triangle-up", "triangle-up", "diamond", "circle", "M-2.2,0H-.6M.6,0H2.2"]
              },
              "legend": {
                "orient": "none", "legendX": 227, "legendY": 636, "rowPadding": 4.5, "symbolSize": 65, "labelFontSize": 12.2, "labelOffset": 9, "symbolOpacity": 1, "labelLimit": 300,
                "encoding": {
                  "labels": {
                    "fill": {"condition": [{"test": "datum.value == 'MD sim.,cooling'", "value": "#2f87ad"}, {"test": "datum.value == 'MD sim.,heating of tetrag. phase'", "value": "#4b4596"}], "value": "#222222"}
                  }
                }
              }
            },
            "fill": {
              "field": "series", "type": "nominal",
              "scale": {
                "domain": ["MD sim.,cooling", "MD sim.,heating of tetrag. phase", "Exp., cubic [10]", "Exp., cubic [21]", "Exp., tetragonal [24,28]"],
                "range": ["#2a8fc0", "#4b4596", "white", "white", "#111111"]
              }
            },
            "stroke": {
              "field": "series", "type": "nominal",
              "scale": {
                "domain": ["MD sim.,cooling", "MD sim.,heating of tetrag. phase", "Exp., cubic [10]", "Exp., cubic [21]", "Exp., tetragonal [24,28]"],
                "range": ["#2a8fc0", "#4b4596", "#222222", "#222222", "#111111"]
              }
            }
          }
        },
        {
          "data": {"name": "exp_points"},
          "mark": {"type": "point", "size": 22, "opacity": 1, "strokeWidth": 1, "filled": true, "fill": "white", "stroke": "#222222"},
          "encoding": {
            "shape": {"field": "series", "type": "nominal", "legend": null}
          }
        },
        {
          "data": {"values": [{"t": 1.08, "s": 2.78, "note": "0.48 eV"}, {"t": 3.38, "s": -5.31, "note": "0.6 eV"}]},
          "mark": {"type": "text", "fontSize": 13, "fontWeight": "bold", "color": "#4b4596", "align": "center", "baseline": "middle"},
          "encoding": {"text": {"field": "note"}}
        },
        {
          "data": {"values": [{"t": 3.53, "s": -2.67, "note": "0.34 eV"}]},
          "mark": {"type": "text", "fontSize": 13, "fontWeight": "bold", "color": "#2f87ad", "align": "center", "baseline": "middle"},
          "encoding": {"text": {"field": "note"}}
        },
        {
          "data": {"values": [{"t": 0.5, "t2": 3.8, "s": -6, "s2": 3.47}]},
          "mark": {"type": "rect", "fill": null, "stroke": "#777777", "strokeWidth": 1},
          "encoding": {"x2": {"field": "t2"}, "y2": {"field": "s2"}}
        }
      ]
    },
    {
      "layer": [
        {
          "mark": {"type": "text", "font": "Liberation Sans", "fontSize": 36, "color": "#111111", "angle": 270, "align": "center", "baseline": "middle"},
          "encoding": {
            "text": {"datum": "("},
            "x": {"datum": 112, "type": "quantitative", "axis": null, "scale": {"domain": [0, 1080], "range": [0, 1080], "nice": false, "zero": false}},
            "y": {"datum": 355, "type": "quantitative", "axis": null, "scale": {"domain": [0, 810], "range": [0, 810], "nice": false, "zero": false}}
          }
        },
        {
          "mark": {"type": "text", "font": "Liberation Sans", "fontSize": 36, "color": "#111111", "angle": 270, "align": "center", "baseline": "middle"},
          "encoding": {
            "text": {"datum": ")"},
            "x": {"datum": 112, "type": "quantitative", "axis": null},
            "y": {"datum": 310, "type": "quantitative", "axis": null}
          }
        },
        {
          "mark": {"type": "text", "font": "Liberation Sans", "fontSize": 17, "color": "#111111", "angle": 270, "align": "center", "baseline": "middle"},
          "encoding": {
            "text": {"datum": "10¹³"},
            "x": {"datum": 105, "type": "quantitative", "axis": null},
            "y": {"datum": 332, "type": "quantitative", "axis": null}
          }
        },
        {
          "mark": {"type": "text", "font": "Liberation Sans", "fontSize": 20, "color": "#111111", "angle": 270, "align": "center", "baseline": "middle"},
          "encoding": {
            "text": {"datum": "—"},
            "x": {"datum": 113, "type": "quantitative", "axis": null},
            "y": {"datum": 332, "type": "quantitative", "axis": null}
          }
        },
        {
          "mark": {"type": "text", "font": "Liberation Sans", "fontSize": 12, "color": "#111111", "angle": 270, "align": "center", "baseline": "middle"},
          "encoding": {
            "text": {"datum": "ν*"},
            "x": {"datum": 122, "type": "quantitative", "axis": null},
            "y": {"datum": 333, "type": "quantitative", "axis": null}
          }
        },
        {
          "mark": {"type": "text", "font": "Liberation Sans", "fontSize": 19, "color": "#111111", "angle": 270, "align": "center", "baseline": "middle"},
          "encoding": {
            "text": {"datum": "D"},
            "x": {"datum": 118, "type": "quantitative", "axis": null},
            "y": {"datum": 300, "type": "quantitative", "axis": null}
          }
        },
        {
          "mark": {"type": "text", "font": "Liberation Sans", "fontSize": 18, "color": "#111111", "angle": 270, "align": "center", "baseline": "middle"},
          "encoding": {
            "text": {"datum": "(cm²/s)"},
            "x": {"datum": 118, "type": "quantitative", "axis": null},
            "y": {"datum": 257, "type": "quantitative", "axis": null}
          }
        },
        {
          "mark": {"type": "text", "font": "Noto Sans CJK SC", "fontSize": 42, "color": "#5b8fd0", "opacity": 0.32, "angle": 337, "align": "center", "baseline": "middle"},
          "encoding": {
            "text": {"datum": "中国科学院物理研究所"},
            "x": {"datum": 492, "type": "quantitative", "axis": null},
            "y": {"datum": 428, "type": "quantitative", "axis": null}
          }
        }
      ]
    }
  ],
  "resolve": {
    "scale": {"x": "independent", "y": "independent", "color": "independent", "shape": "independent", "fill": "independent", "stroke": "independent", "theta": "independent", "angle": "independent"},
    "axis": {"x": "independent", "y": "independent"},
    "legend": {"color": "independent", "shape": "independent", "fill": "independent", "stroke": "independent"}
  }
}
